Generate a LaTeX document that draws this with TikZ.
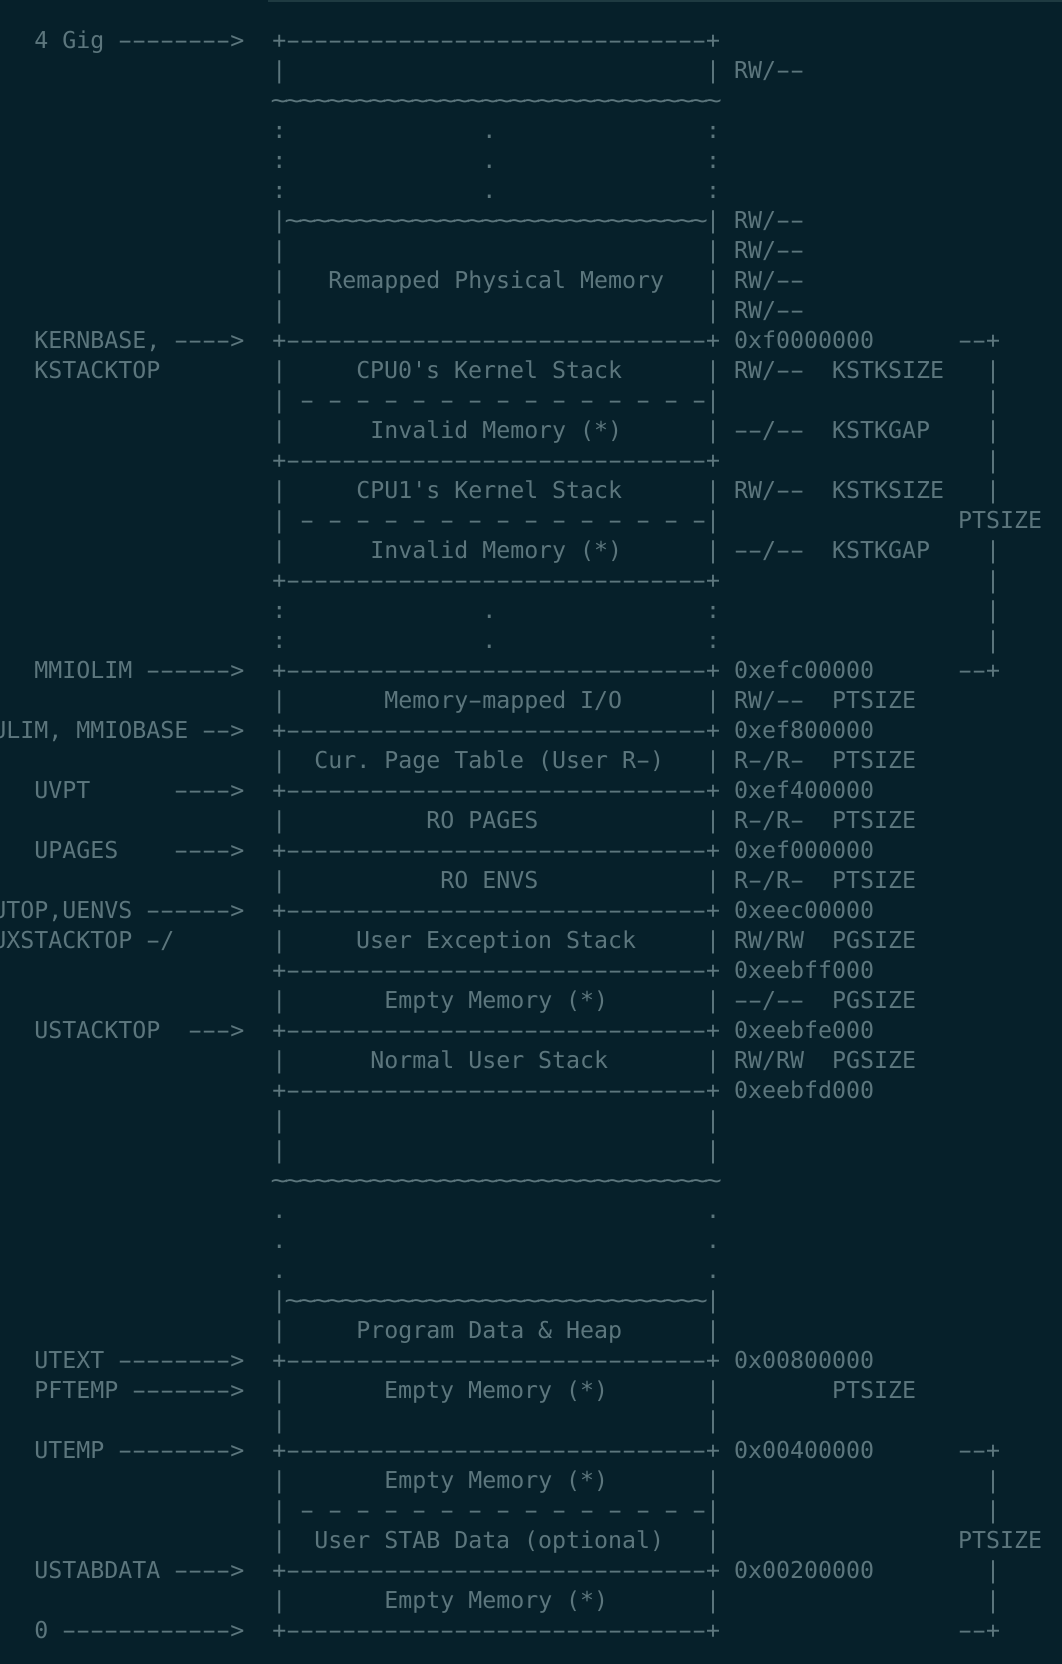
\documentclass[tikz,border=0pt]{standalone}
\usepackage{graphicx}
\usepackage{fontspec}
\setmonofont{DejaVu Sans Mono}

\definecolor{termbg}{RGB}{6,32,42}
\definecolor{termfg}{RGB}{92,118,125}
\definecolor{termbar}{RGB}{30,58,65}

% one column of the terminal
\newlength\charw
\setlength\charw{13.998pt}
\newcommand\pad[1]{\hspace*{#1\charw}}
\newcommand\hy{\makebox[\charw]{\scalebox{1.8}[1]{-}}}
\newcommand\hys[1]{\foreach\cnt in {1,...,#1}{\hy}}
\newcommand\tildes[1]{\foreach\cnt in {1,...,#1}{\makebox[\charw]{\scalebox{1.25}[1]{\textasciitilde}}}}
\newcommand\memedge{+\hys{30}+}
\newcommand\memwall{|\pad{30}|}
\newcommand\memwave{|\tildes{30}|}
\newcommand\memsplit{|\foreach\cnt in {1,...,15}{\pad{1}\hy}|}
\newcommand\memdots{:\pad{14}.\pad{15}:}
\newcommand\memempty{|\pad{7}Empty Memory (*)\pad{7}|}
\newcommand\rwk{RW/\hys{2}}
\newcommand\nok{\hys{2}/\hys{2}}
\newcommand\ror{R\hy/R\hy}

\begin{document}
\begin{tikzpicture}[
  x=14pt, y=-30pt,
  art/.style={anchor=base west, inner sep=0pt, outer sep=0pt, text=termfg,
              font=\ttfamily\frenchspacing\fontsize{23.25pt}{30pt}\selectfont},
]

% ---------------- the terminal window ----------------
\coordinate (nw) at (0.55,-1.6167);
\coordinate (se) at (76.407,53.85);
\useasboundingbox (nw) rectangle (se);
\clip (nw) rectangle (se);
\fill[termbg] (nw) rectangle (se);
\fill[termbar] (19.69,-1.6167) rectangle (76.407,-1.55);

% ---------------- kernel part ----------------
\node[art] (gig)      at ( 3, 0) {4 Gig \hys{8}>\pad{2}\memedge};
\node[art] (r1)       at (20, 1) {\memwall\pad{1}\rwk};
\node[art] (r2)       at (20, 2) {\tildes{32}};
\node[art] (r3)       at (20, 3) {\memdots};
\node[art] (r4)       at (20, 4) {\memdots};
\node[art] (r5)       at (20, 5) {\memdots};
\node[art] (r6)       at (20, 6) {\memwave\pad{1}\rwk};
\node[art] (r7)       at (20, 7) {\memwall\pad{1}\rwk};
\node[art] (remap)    at (20, 8) {|\pad{3}Remapped Physical Memory\pad{3}|\pad{1}\rwk};
\node[art] (r9)       at (20, 9) {\memwall\pad{1}\rwk};
\node[art] (kernbase) at ( 3,10) {KERNBASE, \hys{4}>\pad{2}\memedge\pad{1}0xf0000000\pad{6}\hys{2}+};
\node[art] (cpu0)     at ( 3,11) {KSTACKTOP\pad{8}|\pad{5}CPU0's Kernel Stack\pad{6}|\pad{1}\rwk\pad{2}KSTKSIZE\pad{3}|};
\node[art] (r12)      at (20,12) {\memsplit\pad{19}|};
\node[art] (gap0)     at (20,13) {|\pad{6}Invalid Memory (*)\pad{6}|\pad{1}\nok\pad{2}KSTKGAP\pad{4}|};
\node[art] (r14)      at (20,14) {\memedge\pad{19}|};
\node[art] (cpu1)     at (20,15) {|\pad{5}CPU1's Kernel Stack\pad{6}|\pad{1}\rwk\pad{2}KSTKSIZE\pad{3}|};
\node[art] (r16)      at (20,16) {\memsplit\pad{17}PTSIZE};
\node[art] (gap1)     at (20,17) {|\pad{6}Invalid Memory (*)\pad{6}|\pad{1}\nok\pad{2}KSTKGAP\pad{4}|};
\node[art] (r18)      at (20,18) {\memedge\pad{19}|};
\node[art] (r19)      at (20,19) {\memdots\pad{19}|};
\node[art] (r20)      at (20,20) {\memdots\pad{19}|};

% ---------------- fixed mappings ----------------
\node[art] (mmiolim)  at ( 3,21) {MMIOLIM \hys{6}>\pad{2}\memedge\pad{1}0xefc00000\pad{6}\hys{2}+};
\node[art] (mmio)     at (20,22) {|\pad{7}Memory\hy mapped I/O\pad{6}|\pad{1}\rwk\pad{2}PTSIZE};
\node[art] (ulim)     at ( 0,23) {ULIM, MMIOBASE \hys{2}>\pad{2}\memedge\pad{1}0xef800000};
\node[art] (curpt)    at (20,24) {|\pad{2}Cur. Page Table (User R\hy)\pad{3}|\pad{1}\ror\pad{2}PTSIZE};
\node[art] (uvpt)     at ( 3,25) {UVPT\pad{6}\hys{4}>\pad{2}\memedge\pad{1}0xef400000};
\node[art] (pages)    at (20,26) {|\pad{10}RO PAGES\pad{12}|\pad{1}\ror\pad{2}PTSIZE};
\node[art] (upages)   at ( 3,27) {UPAGES\pad{4}\hys{4}>\pad{2}\memedge\pad{1}0xef000000};
\node[art] (envs)     at (20,28) {|\pad{11}RO ENVS\pad{12}|\pad{1}\ror\pad{2}PTSIZE};
\node[art] (utop)     at ( 0,29) {UTOP,UENVS \hys{6}>\pad{2}\memedge\pad{1}0xeec00000};

% ---------------- user part ----------------
\node[art] (uxstack)  at ( 0,30) {UXSTACKTOP \hy/\pad{7}|\pad{5}User Exception Stack\pad{5}|\pad{1}RW/RW\pad{2}PGSIZE};
\node[art] (r31)      at (20,31) {\memedge\pad{1}0xeebff000};
\node[art] (r32)      at (20,32) {\memempty\pad{1}\nok\pad{2}PGSIZE};
\node[art] (ustack)   at ( 3,33) {USTACKTOP\pad{2}\hys{3}>\pad{2}\memedge\pad{1}0xeebfe000};
\node[art] (normal)   at (20,34) {|\pad{6}Normal User Stack\pad{7}|\pad{1}RW/RW\pad{2}PGSIZE};
\node[art] (r35)      at (20,35) {\memedge\pad{1}0xeebfd000};
\node[art] (r36)      at (20,36) {\memwall};
\node[art] (r37)      at (20,37) {\memwall};
\node[art] (r38)      at (20,38) {\tildes{32}};
\node[art] (r39)      at (20,39) {.\pad{30}.};
\node[art] (r40)      at (20,40) {.\pad{30}.};
\node[art] (r41)      at (20,41) {.\pad{30}.};
\node[art] (r42)      at (20,42) {\memwave};
\node[art] (heap)     at (20,43) {|\pad{5}Program Data \& Heap\pad{6}|};
\node[art] (utext)    at ( 3,44) {UTEXT \hys{8}>\pad{2}\memedge\pad{1}0x00800000};
\node[art] (pftemp)   at ( 3,45) {PFTEMP \hys{7}>\pad{2}\memempty\pad{8}PTSIZE};
\node[art] (r46)      at (20,46) {\memwall};
\node[art] (utemp)    at ( 3,47) {UTEMP \hys{8}>\pad{2}\memedge\pad{1}0x00400000\pad{6}\hys{2}+};
\node[art] (r48)      at (20,48) {\memempty\pad{19}|};
\node[art] (r49)      at (20,49) {\memsplit\pad{19}|};
\node[art] (stab)     at (20,50) {|\pad{2}User STAB Data (optional)\pad{3}|\pad{17}PTSIZE};
\node[art] (ustab)    at ( 3,51) {USTABDATA \hys{4}>\pad{2}\memedge\pad{1}0x00200000\pad{8}|};
\node[art] (r52)      at (20,52) {\memempty\pad{19}|};
\node[art] (zero)     at ( 3,53) {0 \hys{12}>\pad{2}\memedge\pad{17}\hys{2}+};

\end{tikzpicture}
\end{document}
